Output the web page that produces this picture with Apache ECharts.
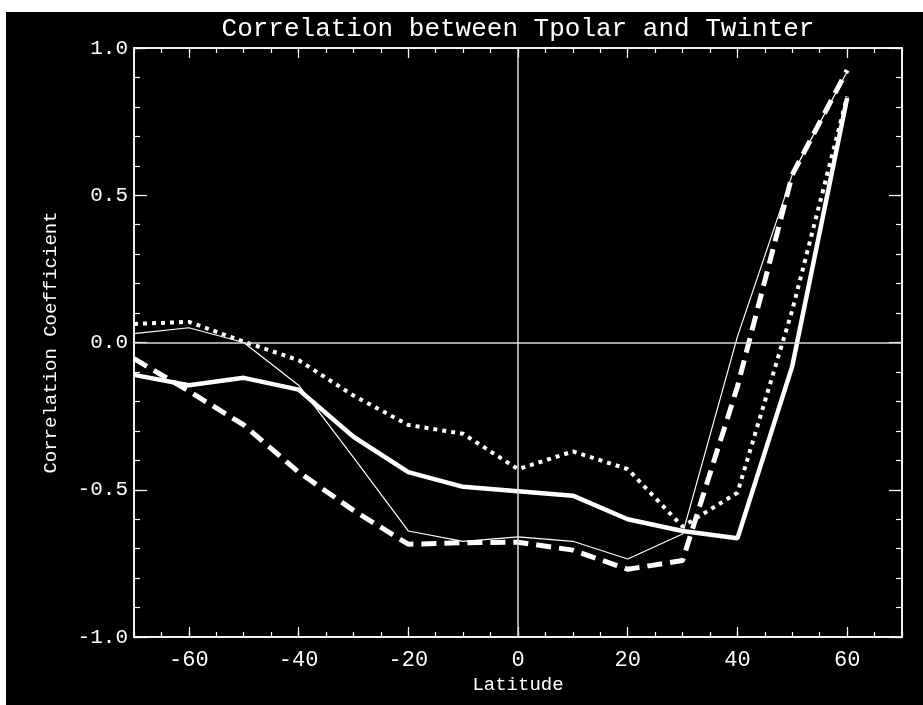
<!DOCTYPE html>
<html>
<head>
<meta charset="utf-8">
<script src="https://cdn.jsdelivr.net/npm/echarts@6/dist/echarts.min.js"></script>
<style>
  html, body { margin: 0; padding: 0; background: #fff; width: 923px; height: 705px; overflow: hidden; }
  #c { position: absolute; left: 6px; top: 12px; width: 917px; height: 693px; background: #000; }
</style>
</head>
<body>
<div id="c"></div>
<script>
// ---- data ----
const latitudes = [-70, -60, -50, -40, -30, -20, -10, 0, 10, 20, 30, 40, 50, 60];
const thickSolid = [-0.11, -0.145, -0.12, -0.16, -0.32, -0.44, -0.49, -0.505, -0.52, -0.60, -0.64, -0.665, -0.08, 0.83];
const thinSolid  = [0.03, 0.05, 0.00, -0.145, -0.39, -0.64, -0.675, -0.66, -0.675, -0.735, -0.65, 0.02, 0.57, 0.92];
const dashed     = [-0.055, -0.165, -0.28, -0.44, -0.57, -0.685, -0.68, -0.678, -0.705, -0.77, -0.74, -0.15, 0.57, 0.925];
const dotted     = [0.063, 0.07, 0.003, -0.06, -0.18, -0.28, -0.31, -0.43, -0.37, -0.43, -0.625, -0.51, 0.11, 0.835];
const xTickLabels = [-60, -40, -20, 0, 20, 40, 60];
const titleText = 'Correlation between Tpolar and Twinter';
const xName = 'Latitude';
const yName = 'Correlation Coefficient';

const FONT = "'Liberation Mono', 'DejaVu Sans Mono', monospace";
const WHITE = '#ffffff';

function pairs(ys) { return latitudes.map((x, i) => [x, ys[i]]); }

const chart = echarts.init(document.getElementById('c'), null, { renderer: 'canvas' });

function xAxisDef(pos, major, withLabel) {
  const a = {
    type: 'value', position: pos, min: -70, max: 70, gridIndex: 0,
    splitLine: { show: false },
    axisLine: { show: major, onZero: false, lineStyle: { color: WHITE, width: 1.5 } },
    axisTick: { show: true, inside: true, length: major ? 10 : 5, lineStyle: { color: WHITE, width: 1.2 } },
    axisLabel: { show: false }
  };
  if (major) {
    a.axisTick.customValues = xTickLabels;
    if (withLabel) {
      a.axisLabel = { show: true, customValues: xTickLabels, color: WHITE, fontFamily: FONT, fontSize: 22, margin: 12 };
      a.name = xName;
      a.nameLocation = 'middle';
      a.nameGap = 36;
      a.nameTextStyle = { color: WHITE, fontFamily: FONT, fontSize: 19 };
    }
  } else {
    a.interval = 5;
  }
  return a;
}
function yAxisDef(pos, major, withLabel) {
  const a = {
    type: 'value', position: pos, min: -1, max: 1, gridIndex: 0,
    interval: major ? 0.5 : 0.1,
    splitLine: { show: false },
    axisLine: { show: major, onZero: false, lineStyle: { color: WHITE, width: 1.5 } },
    axisTick: { show: true, inside: true, length: major ? 13 : 6, lineStyle: { color: WHITE, width: 1.2 } },
    axisLabel: { show: false }
  };
  if (major && withLabel) {
    a.axisLabel = { show: true, color: WHITE, fontFamily: FONT, fontSize: 21, margin: 6,
      formatter: v => v.toFixed(1) };
    a.name = yName;
    a.nameLocation = 'middle';
    a.nameRotate = 90;
    a.nameGap = 74;
    a.nameTextStyle = { color: WHITE, fontFamily: FONT, fontSize: 19 };
  }
  return a;
}

const lineBase = { type: 'line', xAxisIndex: 0, yAxisIndex: 0, showSymbol: false, symbol: 'none', silent: true };

chart.setOption({
  backgroundColor: '#000',
  animation: false,
  graphic: [{
    type: 'text', x: 512, y: 17, silent: true,
    style: { text: titleText, fill: WHITE, font: "26px 'Liberation Mono', monospace", align: 'center', verticalAlign: 'middle' }
  }],
  grid: { left: 128, top: 36, right: 21, bottom: 68, show: true, borderColor: WHITE, borderWidth: 1.5, backgroundColor: 'transparent', containLabel: false },
  xAxis: [xAxisDef('bottom', true, true), xAxisDef('bottom', false), xAxisDef('top', true, false), xAxisDef('top', false)],
  yAxis: [yAxisDef('left', true, true), yAxisDef('left', false), yAxisDef('right', true, false), yAxisDef('right', false)],
  series: [
    Object.assign({}, lineBase, {
      name: 'zero', data: [],
      markLine: { silent: true, symbol: 'none', label: { show: false }, animation: false,
        lineStyle: { color: '#d8d8d8', width: 1.5, type: 'solid' },
        data: [{ yAxis: 0 }, { xAxis: 0 }] },
      z: 1
    }),
    Object.assign({}, lineBase, { name: 'thick', data: pairs(thickSolid), lineStyle: { color: WHITE, width: 4.5, type: 'solid' }, z: 3 }),
    Object.assign({}, lineBase, { name: 'thin', data: pairs(thinSolid), lineStyle: { color: WHITE, width: 1.2, type: 'solid' }, z: 3 }),
    Object.assign({}, lineBase, { name: 'dashed', data: pairs(dashed), lineStyle: { color: WHITE, width: 5, type: [15, 8] }, z: 3 }),
    Object.assign({}, lineBase, { name: 'dotted', data: pairs(dotted), lineStyle: { color: WHITE, width: 4, type: [4, 5] }, z: 3 })
  ]
});
</script>
</body>
</html>
